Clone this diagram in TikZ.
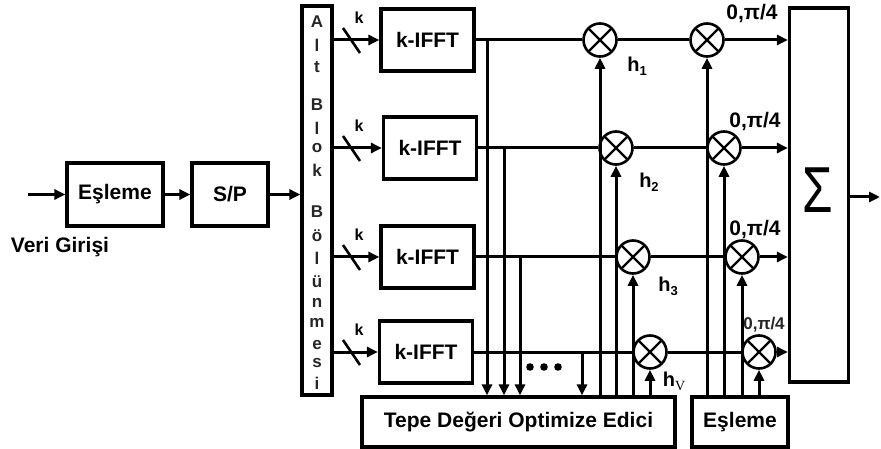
\documentclass[tikz,border=0pt]{standalone}
\usepackage{fontspec}
\setmainfont{Liberation Sans}
\newfontfamily\serifv{Liberation Serif}
\usetikzlibrary{arrows.meta}
\newcommand\myfs{\fontsize{21}{24}\selectfont}
\newcommand\myhl[1]{{\fontsize{20}{22}\selectfont h\raisebox{-4pt}{\fontsize{13}{13}\selectfont #1}}}
\begin{document}
\begin{tikzpicture}[x=1pt,y=-1pt,line width=3pt,font=\bfseries,
  box/.style={draw,rectangle,inner sep=0pt,line width=3.2pt,font=\bfseries\myfs},
  mult/.style={draw,circle,minimum size=33pt,inner sep=0pt,line width=2.6pt,
    path picture={\draw[line width=2.4pt] (path picture bounding box.north west)--(path picture bounding box.south east)
      (path picture bounding box.north east)--(path picture bounding box.south west);}},
  arr/.style={-{Triangle[length=11pt,width=10pt]}},
  lbl/.style={inner sep=0pt,font=\bfseries\fontsize{21}{23}\selectfont},
  letter/.style={inner sep=0pt,text=black!85,font=\bfseries\fontsize{17}{18}\selectfont},
  slash/.style={line width=2.6pt}]
\useasboundingbox (0,0) rectangle (881,449);

% left chain
\node[box,minimum width=96pt,minimum height=63pt] (map1) at (115,194.5) {Eşleme};
\node[box,minimum width=76pt,minimum height=63pt] (sp) at (230,194.5) {S/P};
\node[inner sep=0pt,font=\bfseries\myfs] (veri) at (60,247) {Veri Girişi};
\coordinate (in) at (28,194.5);
\draw[arr] (in) -- (map1.west);
\draw[arr] (map1.east) -- (sp.west);

% Alt Blok Bolunmesi
\node[box,minimum width=30pt,minimum height=389pt] (alt) at (317,200.5) {};
\foreach \ch/\yy [count=\n] in {A/22,l/45,t/67,B/105,l/128,o/148,k/170,B/212,ö/236,l/258,ü/282,n/303,m/323,e/345,s/363,i/383}
  \node[letter] (L\n) at (317,\yy) {\ch};
\draw[arr] (sp.east) -- (sp.east -| alt.west);

% k-IFFT blocks
\node[box,minimum width=93pt,minimum height=62pt] (f1) at (427.5,40) {k-IFFT};
\node[box,minimum width=93pt,minimum height=62pt] (f2) at (430,148) {k-IFFT};
\node[box,minimum width=93pt,minimum height=62pt] (f3) at (427.5,257) {k-IFFT};
\node[box,minimum width=93pt,minimum height=62pt] (f4) at (426,352) {k-IFFT};

\foreach \i in {1,...,4}{
  \draw[arr] (alt.east |- f\i.west) -- (f\i.west);
}
\foreach \i/\yy in {1/40,2/148,3/257,4/352}{
  \draw[slash] (343,\yy-12) -- (360,\yy+13);
  \node[lbl,font=\bfseries\fontsize{16}{17}\selectfont] (k\i) at (359,\yy-22) {k};
}

% optimizer and mapping boxes
\node[box,minimum width=313pt,minimum height=50pt] (tepe) at (518.5,422) {Tepe Değeri Optimize Edici};
\node[box,minimum width=96pt,minimum height=50pt] (map2) at (740,422) {Eşleme};

% multipliers
\node[mult] (c1) at (600,40) {};
\node[mult] (c2) at (616,148) {};
\node[mult] (c3) at (633,257) {};
\node[mult] (c4) at (650,352) {};
\node[mult] (d1) at (707,40) {};
\node[mult] (d2) at (724,148) {};
\node[mult] (d3) at (742,257) {};
\node[mult] (d4) at (759,352) {};

% summation
\node[box,minimum width=59pt,minimum height=374pt] (sum) at (819,195) {};
\node[inner sep=0pt,font=\mdseries\fontsize{52}{52}\selectfont] (sig) at (818,190) {\scalebox{0.95}[1.25]{Σ}};
\coordinate (out) at (880,197);
\draw[arr] (sum.east |- out) -- (out);

% signal lines
\foreach \i in {1,...,4}{
  \draw (f\i.east) -- (c\i.west);
  \draw (c\i.east) -- (d\i.west);
  \draw[arr] (d\i.east) -- (d\i.east -| sum.west);
  \draw[arr] (c\i |- tepe.north) -- (c\i.south);
  \draw[arr] (d\i |- map2.north) -- (d\i.south);
}

% drop lines into optimizer
\coordinate (j1) at (487,40);
\coordinate (j2) at (504,148);
\coordinate (j3) at (520,257);
\coordinate (j4) at (582,352);
\foreach \i in {1,...,4}
  \draw[arr] (j\i) -- (j\i |- tepe.north);
\foreach \xx in {530,544,558}
  \fill (\xx,367) circle (3.8pt);

% labels
\node[lbl] (h1) at (637,66) {\myhl{1}};
\node[lbl] (h2) at (649,182) {\myhl{2}};
\node[lbl] (h3) at (668,286) {\myhl{3}};
\node[lbl] (h4) at (674,381) {{\fontsize{20}{22}\selectfont h\raisebox{-4pt}{\serifv\mdseries\fontsize{14}{14}\selectfont V}}};
\node[lbl] (p1) at (752,14) {0,π/4};
\node[lbl] (p2) at (755,122) {0,π/4};
\node[lbl] (p3) at (755,230) {0,π/4};
\node[lbl,font=\bfseries\fontsize{17}{18}\selectfont,text=black!85] (p4) at (764,325) {0,π/4};
\end{tikzpicture}
\end{document}
